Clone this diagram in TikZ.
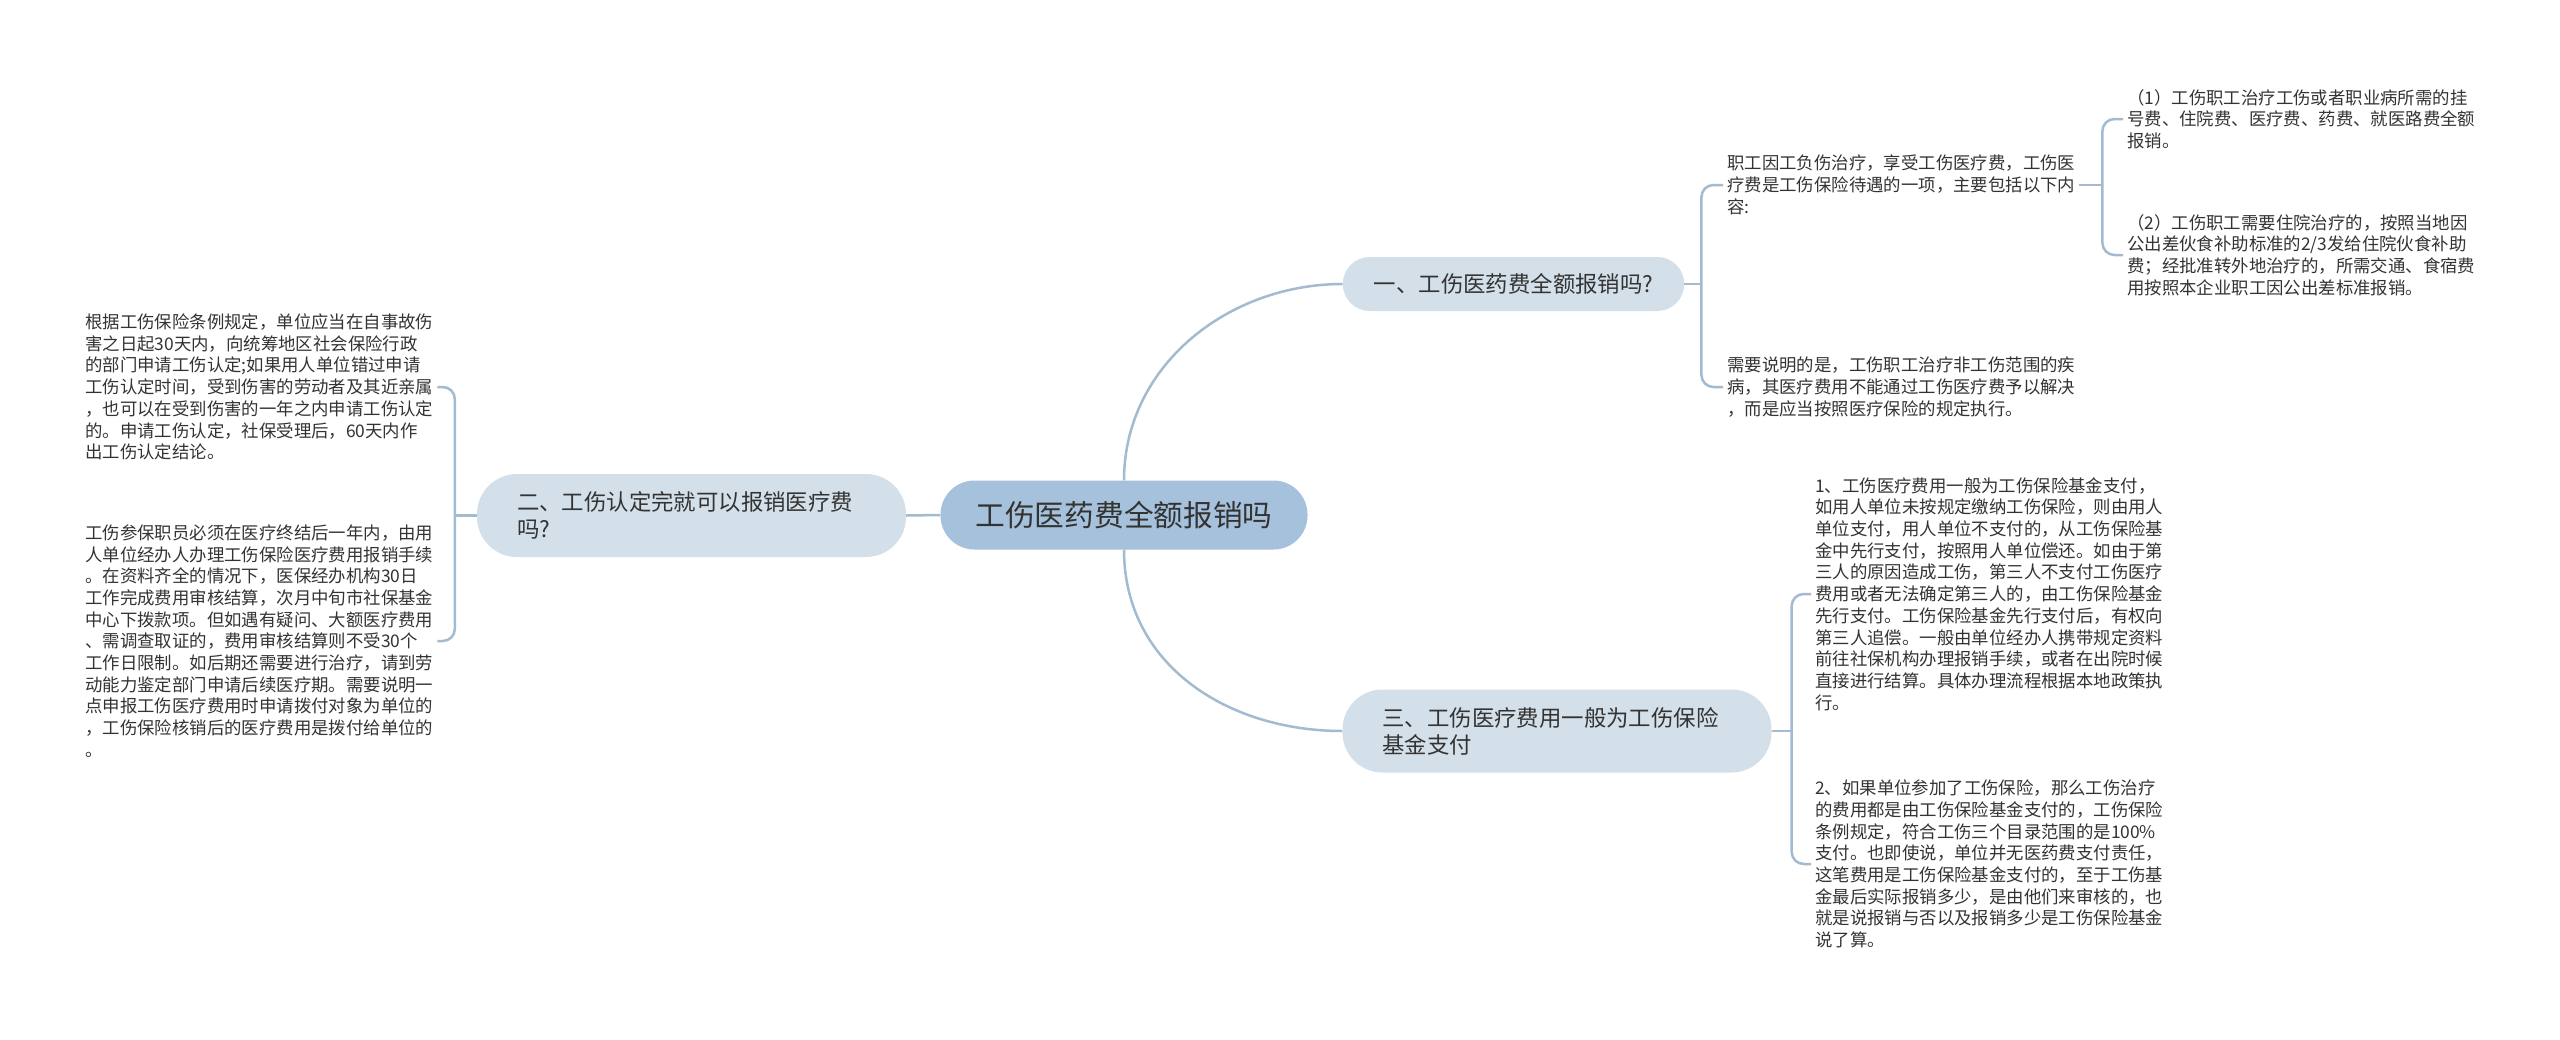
\documentclass[tikz,border=0pt]{standalone}
\usepackage{fontspec}
\setmainfont{Noto Sans CJK SC}
\definecolor{rootblue}{HTML}{A5C1DC}
\definecolor{branchblue}{HTML}{D4E0E9}
\definecolor{linkblue}{HTML}{A3BBD0}
\definecolor{textgray}{HTML}{333333}
\tikzset{
  root/.style       = {fill=rootblue, rounded corners=34pt, minimum height=69pt, inner xsep=35pt, text=textgray, font=\fontsize{29.7}{34}\selectfont},
  branch/.style     = {fill=branchblue, rounded corners=27pt, minimum height=54pt, inner xsep=31pt, text=textgray, font=\fontsize{22.4}{27}\selectfont},
  widebranch/.style = {branch, rounded corners=40pt, minimum height=83pt, text width=349pt, inner xsep=40pt, align=left},
  leaf/.style       = {anchor=west, inner xsep=4pt, inner ysep=0pt, align=left, text=textgray, font=\fontsize{17.4}{21.7}\selectfont},
  link/.style       = {draw=linkblue, line width=2.5pt},
  bracket/.style    = {link, rounded corners=12pt}
}
\begin{document}
\begin{tikzpicture}[x=1pt,y=-1pt]
  \fill[white] (0,0) rectangle (2560,1039);
  \node[root] (root) at (1124,515) {工伤医药费全额报销吗};
  \node[widebranch] (q2) at (691.5,515.5) {二、工伤认定完就可以报销医疗费\\吗?};
  \node[branch] (q1) at (1513.5,284) {一、工伤医药费全额报销吗?};
  \node[widebranch] (q3) at (1557,731) {三、工伤医疗费用一般为工伤保险\\基金支付};

  \node[leaf] (q2a) at (81,387) {根据工伤保险条例规定，单位应当在自事故伤\\害之日起30天内，向统筹地区社会保险行政\\的部门申请工伤认定;如果用人单位错过申请\\工伤认定时间，受到伤害的劳动者及其近亲属\\，也可以在受到伤害的一年之内申请工伤认定\\的。申请工伤认定，社保受理后，60天内作\\出工伤认定结论。};
  \node[leaf] (q2b) at (81,641) {工伤参保职员必须在医疗终结后一年内，由用\\人单位经办人办理工伤保险医疗费用报销手续\\。在资料齐全的情况下，医保经办机构30日\\工作完成费用审核结算，次月中旬市社保基金\\中心下拨款项。但如遇有疑问、大额医疗费用\\、需调查取证的，费用审核结算则不受30个\\工作日限制。如后期还需要进行治疗，请到劳\\动能力鉴定部门申请后续医疗期。需要说明一\\点申报工伤医疗费用时申请拨付对象为单位的\\，工伤保险核销后的医疗费用是拨付给单位的\\。};
  \node[leaf] (q1a) at (1723,185) {职工因工负伤治疗，享受工伤医疗费，工伤医\\疗费是工伤保险待遇的一项，主要包括以下内\\容:};
  \node[leaf] (q1b) at (1723,387) {需要说明的是，工伤职工治疗非工伤范围的疾\\病，其医疗费用不能通过工伤医疗费予以解决\\，而是应当按照医疗保险的规定执行。};
  \node[leaf] (q1a1) at (2123,119) {（1）工伤职工治疗工伤或者职业病所需的挂\\号费、住院费、医疗费、药费、就医路费全额\\报销。};
  \node[leaf] (q1a2) at (2123,255) {（2）工伤职工需要住院治疗的，按照当地因\\公出差伙食补助标准的2/3发给住院伙食补助\\费；经批准转外地治疗的，所需交通、食宿费\\用按照本企业职工因公出差标准报销。};
  \node[leaf] (q3a) at (1811,594) {1、工伤医疗费用一般为工伤保险基金支付，\\如用人单位未按规定缴纳工伤保险，则由用人\\单位支付，用人单位不支付的，从工伤保险基\\金中先行支付，按照用人单位偿还。如由于第\\三人的原因造成工伤，第三人不支付工伤医疗\\费用或者无法确定第三人的，由工伤保险基金\\先行支付。工伤保险基金先行支付后，有权向\\第三人追偿。一般由单位经办人携带规定资料\\前往社保机构办理报销手续，或者在出院时候\\直接进行结算。具体办理流程根据本地政策执\\行。};
  \node[leaf] (q3b) at (1811,864) {2、如果单位参加了工伤保险，那么工伤治疗\\的费用都是由工伤保险基金支付的，工伤保险\\条例规定，符合工伤三个目录范围的是100\%\\支付。也即使说，单位并无医药费支付责任，\\这笔费用是工伤保险基金支付的，至于工伤基\\金最后实际报销多少，是由他们来审核的，也\\就是说报销与否以及报销多少是工伤保险基金\\说了算。};

  \draw[link] (root.west) -- (q2.east);
  \draw[link] (root.north) .. controls +(0,-114) and +(-115,0) .. (q1.west);
  \draw[link] (root.south) .. controls +(0,115) and +(-115,0) .. (q3.west);

  \draw[link] (q2.west) -- ++(-22,0) coordinate (q2j);
  \draw[bracket] (q2j) |- (q2a.east);
  \draw[bracket] (q2j) |- (q2b.east);

  \draw[link] (q1.east) -- ++(17,0) coordinate (q1j);
  \draw[bracket] (q1j) |- (q1a.west);
  \draw[bracket] (q1j) |- (q1b.west);

  \draw[link] (q1a.east) -- ++(23,0) coordinate (q1aj);
  \draw[bracket] (q1aj) |- (q1a1.west);
  \draw[bracket] (q1aj) |- (q1a2.west);

  \draw[link] (q3.east) -- ++(20,0) coordinate (q3j);
  \draw[bracket] (q3j) |- (q3a.west);
  \draw[bracket] (q3j) |- (q3b.west);
\end{tikzpicture}
\end{document}
